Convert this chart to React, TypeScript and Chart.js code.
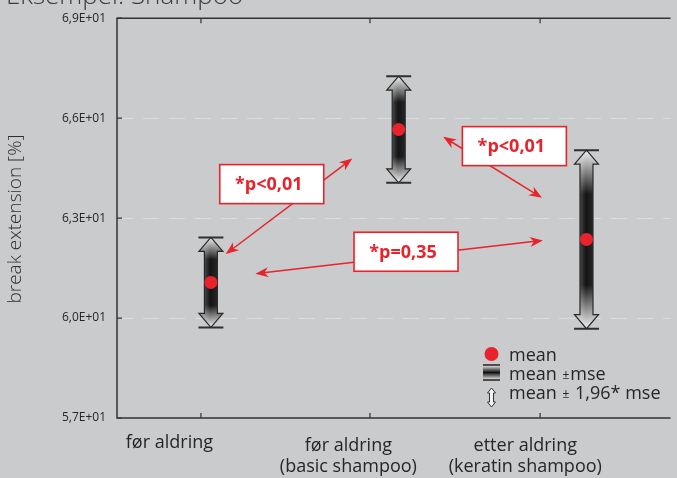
import React, { useEffect, useRef } from "react";
import { Chart, registerables } from "chart.js";

Chart.register(...registerables);

// ---------- data ----------
const categories: string[][] = [
  ["før aldring"],
  ["før aldring", "(basic shampoo)"],
  ["etter aldring", "(keratin shampoo)"],
];
const groupX = [1, 2, 3];
const means = [61.07, 65.66, 62.36];
const ci196 = [1.35, 1.6, 2.68]; // half width = 1.96 * mse
const yTicks = [57, 60, 63, 66, 69];
const pLabels = ["*p<0,01", "*p<0,01", "*p=0,35"];
const annFrom = [
  { x: 1.079, y: 61.92 },
  { x: 2.237, y: 65.44 },
  { x: 1.237, y: 61.33 },
];
const annTo = [
  { x: 1.753, y: 64.79 },
  { x: 2.763, y: 63.61 },
  { x: 2.768, y: 62.33 },
];
const annBox = [
  { x: 1.324, y: 64.02 },
  { x: 2.616, y: 65.16 },
  { x: 2.039, y: 61.99 },
];
const legendLabels = ["mean", "mean ±mse", "mean ± 1,96* mse"];
const titleText = "Eksempel: Shampoo";
const yTitle = "break extension [%]";

// ---------- layout (not data) ----------
const tickPos = [0.947, 1.847, 2.753];
const labelPos = [0.779, 1.732, 2.674];
const RED = "#e8232b";
const AXIS = "#333333";
const TEXT = "#262626";

const fmt = (v: number) => (v / 10).toFixed(1).replace(".", ",") + "E+01";

function drawErrArrow(ctx: CanvasRenderingContext2D, cx: number, yT: number, yB: number, yMT: number, yMB: number) {
  const sw = 6.5, hw = 12, hl = 14, cap = 12.5;
  const L = yB - yT;
  const g = ctx.createLinearGradient(0, yT, 0, yB);
  const f1 = Math.min(Math.max((yMT - yT) / L, 0.01), 0.49);
  const f2 = Math.min(Math.max((yMB - yT) / L, 0.51), 0.99);
  g.addColorStop(0, "#f2f2f2");
  g.addColorStop(f1, "#141414");
  g.addColorStop(f2, "#141414");
  g.addColorStop(1, "#f2f2f2");
  ctx.save();
  ctx.beginPath();
  ctx.moveTo(cx, yT);
  ctx.lineTo(cx + hw, yT + hl);
  ctx.lineTo(cx + sw, yT + hl);
  ctx.lineTo(cx + sw, yB - hl);
  ctx.lineTo(cx + hw, yB - hl);
  ctx.lineTo(cx, yB);
  ctx.lineTo(cx - hw, yB - hl);
  ctx.lineTo(cx - sw, yB - hl);
  ctx.lineTo(cx - sw, yT + hl);
  ctx.lineTo(cx - hw, yT + hl);
  ctx.closePath();
  ctx.fillStyle = g;
  ctx.fill();
  const h = ctx.createLinearGradient(cx - sw, 0, cx + sw, 0);
  h.addColorStop(0, "rgba(255,255,255,0.22)");
  h.addColorStop(0.45, "rgba(255,255,255,0)");
  h.addColorStop(1, "rgba(255,255,255,0.08)");
  ctx.fillStyle = h;
  ctx.fill();
  ctx.strokeStyle = "#2a2a2a";
  ctx.lineWidth = 1.2;
  ctx.stroke();
  ctx.beginPath();
  ctx.moveTo(cx - cap, yT);
  ctx.lineTo(cx + cap, yT);
  ctx.moveTo(cx - cap, yB);
  ctx.lineTo(cx + cap, yB);
  ctx.lineWidth = 2;
  ctx.strokeStyle = "#303030";
  ctx.stroke();
  ctx.restore();
}

function arrowHead(ctx: CanvasRenderingContext2D, tx: number, ty: number, fx: number, fy: number) {
  const len = 13, half = 5;
  const a = Math.atan2(ty - fy, tx - fx);
  const bx = tx - len * Math.cos(a), by = ty - len * Math.sin(a);
  const nx = -Math.sin(a), ny = Math.cos(a);
  const ix = tx - len * 0.7 * Math.cos(a), iy = ty - len * 0.7 * Math.sin(a);
  ctx.beginPath();
  ctx.moveTo(tx, ty);
  ctx.lineTo(bx + nx * half, by + ny * half);
  ctx.lineTo(ix, iy);
  ctx.lineTo(bx - nx * half, by - ny * half);
  ctx.closePath();
  ctx.fill();
}

const customPlugin = {
  id: "customDraw",
  beforeDatasetsDraw(chart: any) {
    const { ctx, chartArea, scales } = chart;
    const xs = scales.x, ys = scales.y;
    ctx.save();
    ctx.strokeStyle = "rgba(232,233,234,0.6)";
    ctx.lineWidth = 1;
    ctx.setLineDash([16, 10]);
    yTicks.slice(1, -1).forEach((v) => {
      const y = Math.round(ys.getPixelForValue(v)) + 0.5;
      ctx.beginPath();
      ctx.moveTo(chartArea.left, y);
      ctx.lineTo(chartArea.right, y);
      ctx.stroke();
    });
    ctx.setLineDash([]);
    ctx.restore();
    groupX.forEach((gx, i) => {
      const cx = xs.getPixelForValue(gx);
      const mse = ci196[i] / 1.96;
      drawErrArrow(
        ctx,
        cx,
        ys.getPixelForValue(means[i] + ci196[i]),
        ys.getPixelForValue(means[i] - ci196[i]),
        ys.getPixelForValue(means[i] + mse),
        ys.getPixelForValue(means[i] - mse)
      );
    });
  },
  afterDatasetsDraw(chart: any) {
    const { ctx, scales } = chart;
    const xs = scales.x, ys = scales.y;
    ctx.save();
    pLabels.forEach((lab, i) => {
      const x1 = xs.getPixelForValue(annFrom[i].x), y1 = ys.getPixelForValue(annFrom[i].y);
      const x2 = xs.getPixelForValue(annTo[i].x), y2 = ys.getPixelForValue(annTo[i].y);
      ctx.strokeStyle = RED;
      ctx.fillStyle = RED;
      ctx.lineWidth = 1.5;
      const a = Math.atan2(y2 - y1, x2 - x1);
      ctx.beginPath();
      ctx.moveTo(x1 + 8 * Math.cos(a), y1 + 8 * Math.sin(a));
      ctx.lineTo(x2 - 8 * Math.cos(a), y2 - 8 * Math.sin(a));
      ctx.stroke();
      arrowHead(ctx, x1, y1, x2, y2);
      arrowHead(ctx, x2, y2, x1, y1);
      const bx = xs.getPixelForValue(annBox[i].x), by = ys.getPixelForValue(annBox[i].y);
      const bw = 104, bh = 39;
      ctx.fillStyle = "#ffffff";
      ctx.fillRect(bx - bw / 2, by - bh / 2, bw, bh);
      ctx.strokeStyle = RED;
      ctx.lineWidth = 1.6;
      ctx.strokeRect(bx - bw / 2, by - bh / 2, bw, bh);
      ctx.fillStyle = RED;
      ctx.font = 'bold 18px "Open Sans"';
      ctx.textAlign = "center";
      ctx.textBaseline = "middle";
      ctx.fillText(lab, bx - 3, by + 1);
    });
    ctx.restore();
  },
  afterDraw(chart: any) {
    const { ctx, chartArea, scales } = chart;
    const xs = scales.x, ys = scales.y;
    const { left, right, top, bottom } = chartArea;
    ctx.save();
    ctx.strokeStyle = AXIS;
    ctx.lineWidth = 1.5;
    ctx.beginPath();
    ctx.moveTo(right, top);
    ctx.lineTo(left, top);
    ctx.lineTo(left, bottom);
    ctx.lineTo(right, bottom);
    ctx.stroke();
    ctx.lineWidth = 1.2;
    ctx.beginPath();
    yTicks.forEach((v) => {
      const y = ys.getPixelForValue(v);
      ctx.moveTo(left, y);
      ctx.lineTo(left + 5, y);
    });
    tickPos.forEach((v) => {
      const x = xs.getPixelForValue(v);
      ctx.moveTo(x, bottom);
      ctx.lineTo(x, bottom - 5);
      ctx.moveTo(x, top);
      ctx.lineTo(x, top + 5);
    });
    ctx.stroke();
    // category labels
    ctx.fillStyle = TEXT;
    ctx.font = '18px "Open Sans"';
    ctx.textAlign = "center";
    ctx.textBaseline = "alphabetic";
    categories.forEach((lines, i) => {
      const x = xs.getPixelForValue(labelPos[i]);
      if (lines.length === 1) {
        ctx.fillText(lines[0], x, 448);
      } else {
        lines.forEach((t, j) => ctx.fillText(t, x, 451 + j * 21));
      }
    });
    // title (cut off at top)
    ctx.fillStyle = "#3c3c3c";
    ctx.font = '300 26px "Open Sans"';
    ctx.textAlign = "left";
    ctx.fillText(titleText, 6, 4);
    // y title
    ctx.save();
    ctx.translate(16, 219);
    ctx.rotate(-Math.PI / 2);
    ctx.fillStyle = "#2e2e2e";
    ctx.font = '300 19px "Open Sans"';
    ctx.textAlign = "center";
    ctx.textBaseline = "middle";
    ctx.fillText(yTitle, 0, 0);
    ctx.restore();
    // legend
    const lx = 491.5;
    ctx.fillStyle = RED;
    ctx.beginPath();
    ctx.arc(lx, 354, 7, 0, Math.PI * 2);
    ctx.fill();
    const gy0 = 365, gy1 = 380;
    const g = ctx.createLinearGradient(0, gy0, 0, gy1);
    g.addColorStop(0, "#f0f0f0");
    g.addColorStop(0.5, "#111");
    g.addColorStop(1, "#f0f0f0");
    ctx.fillStyle = g;
    ctx.fillRect(lx - 8.5, gy0, 17, gy1 - gy0);
    ctx.strokeStyle = "#222";
    ctx.lineWidth = 1.5;
    ctx.beginPath();
    ctx.moveTo(lx - 8.5, gy0);
    ctx.lineTo(lx + 8.5, gy0);
    ctx.moveTo(lx - 8.5, gy1);
    ctx.lineTo(lx + 8.5, gy1);
    ctx.stroke();
    const ay0 = 388, ay1 = 407, sw = 2, hw = 4, hl = 5;
    ctx.beginPath();
    ctx.moveTo(lx, ay0);
    ctx.lineTo(lx + hw, ay0 + hl);
    ctx.lineTo(lx + sw, ay0 + hl);
    ctx.lineTo(lx + sw, ay1 - hl);
    ctx.lineTo(lx + hw, ay1 - hl);
    ctx.lineTo(lx, ay1);
    ctx.lineTo(lx - hw, ay1 - hl);
    ctx.lineTo(lx - sw, ay1 - hl);
    ctx.lineTo(lx - sw, ay0 + hl);
    ctx.lineTo(lx - hw, ay0 + hl);
    ctx.closePath();
    ctx.fillStyle = "#f4f4f4";
    ctx.fill();
    ctx.strokeStyle = "#333";
    ctx.lineWidth = 1;
    ctx.stroke();
    const baselines = [361, 380, 399];
    ctx.fillStyle = TEXT;
    ctx.textAlign = "left";
    ctx.textBaseline = "alphabetic";
    legendLabels.forEach((lab, i) => {
      const parts = lab.split("±");
      let x = 509;
      parts.forEach((p, j) => {
        if (j > 0) {
          ctx.font = '12px "Open Sans"';
          ctx.fillText("±", x + 1, baselines[i] - 1);
          x += ctx.measureText("±").width + 2;
        }
        ctx.font = '18px "Open Sans"';
        ctx.fillText(p, x, baselines[i]);
        x += ctx.measureText(p).width;
      });
    });
    ctx.restore();
  },
};

export default function App() {
  const ref = useRef<HTMLCanvasElement | null>(null);
  useEffect(() => {
    if (!ref.current) return;
    const chart = new Chart(ref.current, {
      type: "scatter",
      data: {
        datasets: [
          {
            label: "mean",
            data: groupX.map((x, i) => ({ x, y: means[i] })),
            backgroundColor: RED,
            borderWidth: 0,
            pointRadius: 6.5,
            pointHoverRadius: 6.5,
          },
        ],
      },
      options: {
        animation: false,
        responsive: false,
        devicePixelRatio: 1,
        events: [],
        layout: { padding: { top: 12.5, bottom: 60, left: 0, right: 0 } },
        plugins: { legend: { display: false }, tooltip: { enabled: false } },
        scales: {
          x: { type: "linear", display: false, min: 0.5, max: 0.5 + 560 / 190 },
          y: {
            type: "linear",
            min: 57,
            max: 69,
            afterFit: (s: any) => {
              s.width = 117;
            },
            afterBuildTicks: (s: any) => {
              s.ticks = yTicks.map((v) => ({ value: v }));
            },
            grid: { display: false, drawTicks: false },
            border: { display: false },
            ticks: {
              padding: 11,
              color: TEXT,
              font: { family: "Open Sans", size: 12 },
              callback: (v: any) => fmt(Number(v)),
            },
          },
        },
      },
      plugins: [customPlugin],
    });
    return () => chart.destroy();
  }, []);
  return (
    <div style={{ position: "fixed", left: 0, top: 0, width: 677, height: 478, background: "#c9cbcc", overflow: "hidden" }}>
      <canvas ref={ref} width={677} height={478} style={{ display: "block" }} />
    </div>
  );
}
